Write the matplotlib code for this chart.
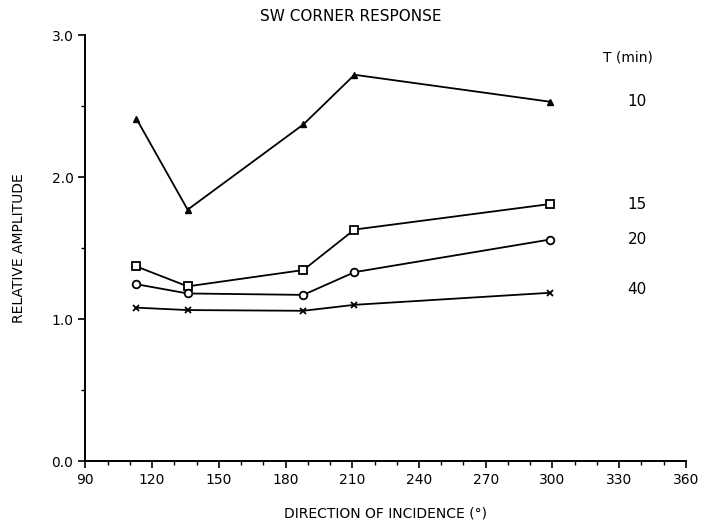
import numpy as np
import matplotlib
matplotlib.use("Agg")
import matplotlib.pyplot as plt
from matplotlib.ticker import MultipleLocator

# --- Data ---
direction = [113, 136, 188, 211, 299]
amp_t10 = [2.41, 1.77, 2.37, 2.72, 2.53]
amp_t15 = [1.37, 1.23, 1.345, 1.63, 1.81]
amp_t20 = [1.245, 1.18, 1.17, 1.33, 1.56]
amp_t40 = [1.08, 1.063, 1.058, 1.10, 1.185]
t_labels = ["10", "15", "20", "40"]
label_y = [2.53, 1.81, 1.56, 1.21]

x_ticks = [90, 120, 150, 180, 210, 240, 270, 300, 330, 360]
y_ticks = [0.0, 1.0, 2.0, 3.0]
y_tick_labels = ["0.0", "1.0", "2.0", "3.0"]

plt.rcParams['font.family'] = ['DejaVu Sans']

fig = plt.figure(figsize=(7.05, 5.29), dpi=100)
ax = fig.add_axes([0.121, 0.1285, 0.852, 0.8053])

# --- Series ---
ax.plot(direction, amp_t10, color="black", lw=1.3, marker="^", ms=5, mfc="black")
ax.plot(direction, amp_t15, color="black", lw=1.3, marker="s", ms=5.5, mfc="white", mew=1.3)
ax.plot(direction, amp_t20, color="black", lw=1.3, marker="o", ms=5.5, mfc="white", mew=1.3)
ax.plot(direction, amp_t40, color="black", lw=1.3, marker="x", ms=4.5, mew=1.3)

# --- Curve labels ---
ax.text(334, 2.84, "T (min)", fontsize=10, ha="center", va="center")
for lab, yy in zip(t_labels, label_y):
    ax.text(338, yy, lab, fontsize=11, ha="center", va="center")

# --- Axes styling ---
ax.set_xlim(90, 360)
ax.set_ylim(0, 3.0)
ax.set_xticks(x_ticks)
ax.xaxis.set_minor_locator(MultipleLocator(10))
ax.set_yticks(y_ticks)
ax.set_yticklabels(y_tick_labels)
ax.yaxis.set_minor_locator(MultipleLocator(0.5))
ax.tick_params(axis="both", which="major", direction="out", length=5, width=1.2, labelsize=10)
ax.tick_params(axis="both", which="minor", direction="out", length=3, width=1.0)
ax.spines["top"].set_visible(False)
ax.spines["right"].set_visible(False)
ax.spines["left"].set_linewidth(1.4)
ax.spines["bottom"].set_linewidth(1.4)

ax.set_xlabel("DIRECTION OF INCIDENCE (°)", fontsize=10, labelpad=14)
ax.set_ylabel("RELATIVE AMPLITUDE", fontsize=10, labelpad=18)
fig.text(0.497, 0.968, "SW CORNER RESPONSE", fontsize=11, ha="center", va="center")

fig.savefig("out.png", dpi=100)
